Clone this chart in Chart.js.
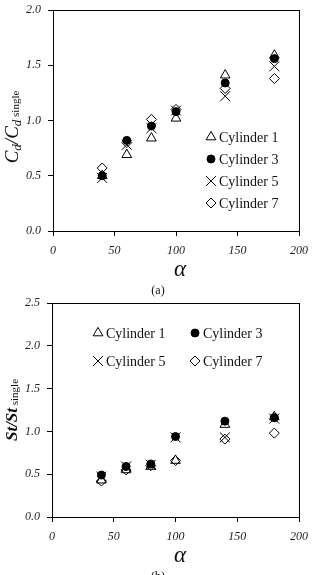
<!DOCTYPE html>
<html>
<head>
<meta charset="utf-8">
<script src="https://cdn.jsdelivr.net/npm/chart.js@4"></script>
<style>
  body { margin: 0; background: #fff; }
  #wrap { position: relative; width: 312px; height: 575px; overflow: hidden; }
  canvas { position: absolute; left: 0; }
  #canvasA { top: 0; }
  #canvasB { top: 290px; }
</style>
</head>
<body>
<div id="wrap">
  <canvas id="canvasA" width="312" height="300"></canvas>
  <canvas id="canvasB" width="312" height="285"></canvas>
</div>
<script>
// données
const alpha = [40, 60, 80, 100, 140, 180];
const seriesNames = ['Cylinder 1', 'Cylinder 3', 'Cylinder 5', 'Cylinder 7'];

// (a) Cd / Cd single
const cdCyl1 = [0.50, 0.69, 0.84, 1.02, 1.41, 1.59];
const cdCyl3 = [0.50, 0.82, 0.95, 1.08, 1.34, 1.56];
const cdCyl5 = [0.48, 0.78, 0.93, 1.09, 1.22, 1.49];
const cdCyl7 = [0.57, 0.80, 1.01, 1.10, 1.29, 1.38];

// (b) St / St single
const stCyl1 = [0.43, 0.55, 0.59, 0.66, 1.08, 1.17];
const stCyl3 = [0.49, 0.59, 0.62, 0.94, 1.12, 1.16];
const stCyl5 = [0.47, 0.59, 0.61, 0.93, 0.93, 1.15];
const stCyl7 = [0.42, 0.55, 0.60, 0.66, 0.91, 0.98];

const xTicks = [0, 50, 100, 150, 200];
const yTicksA = [0, 0.5, 1.0, 1.5, 2.0];
const yTicksB = [0, 0.5, 1.0, 1.5, 2.0, 2.5];

// styles des marqueurs
const markers = [
  { pointStyle: 'triangle', radius: 5.6, backgroundColor: 'rgba(255,255,255,0)' },
  { pointStyle: 'circle', radius: 4, backgroundColor: '#000' },
  { pointStyle: 'crossRot', radius: 7, backgroundColor: 'rgba(0,0,0,0)' },
  { pointStyle: 'rectRot', radius: 5, backgroundColor: 'rgba(255,255,255,0)' }
];

function makeDatasets(values) {
  return values.map((vals, i) => ({
    label: seriesNames[i],
    data: vals.map((v, k) => ({ x: alpha[k], y: v })),
    pointStyle: markers[i].pointStyle,
    pointRadius: markers[i].radius,
    pointBackgroundColor: markers[i].backgroundColor,
    pointBorderColor: '#000',
    pointBorderWidth: 1,
    showLine: false
  }));
}

// marqueur de légende (au cas où Chart.helpers n'existe pas)
function legendMarker(ctx, style, r, x, y) {
  if (Chart.helpers && Chart.helpers.drawPoint) {
    Chart.helpers.drawPoint(ctx, { pointStyle: style, radius: r, borderWidth: 1, rotation: 0 }, x, y);
    return;
  }
  ctx.beginPath();
  if (style === 'circle') {
    ctx.arc(x, y, r, 0, Math.PI * 2);
    ctx.fill();
  } else if (style === 'triangle') {
    ctx.moveTo(x, y - r);
    ctx.lineTo(x + r * 0.866, y + r / 2);
    ctx.lineTo(x - r * 0.866, y + r / 2);
    ctx.closePath();
  } else if (style === 'crossRot') {
    const d = r * 0.707;
    ctx.moveTo(x - d, y - d); ctx.lineTo(x + d, y + d);
    ctx.moveTo(x + d, y - d); ctx.lineTo(x - d, y + d);
  } else if (style === 'rectRot') {
    ctx.moveTo(x - r, y); ctx.lineTo(x, y - r); ctx.lineTo(x + r, y); ctx.lineTo(x, y + r);
    ctx.closePath();
  }
  ctx.stroke();
}

// dessin du cadre, légende, titres
const decorPlugin = {
  id: 'decor',
  afterDraw(chart, args, opts) {
    const ctx = chart.ctx;
    const a = chart.chartArea;
    ctx.save();
    // cadre
    ctx.strokeStyle = '#000';
    ctx.lineWidth = 1;
    ctx.strokeRect(Math.round(a.left) + 0.5, Math.round(a.top) + 0.5,
      Math.round(a.right - a.left), Math.round(a.bottom - a.top));

    // légende
    ctx.textBaseline = 'middle';
    ctx.textAlign = 'left';
    opts.legend.forEach((pos, i) => {
      const ds = chart.data.datasets[i];
      ctx.strokeStyle = '#000';
      ctx.fillStyle = ds.pointBackgroundColor;
      ctx.lineWidth = 1;
      legendMarker(ctx, ds.pointStyle, ds.pointRadius, pos[0], pos[1]);
      ctx.fillStyle = '#111';
      ctx.font = '14px "Liberation Serif"';
      ctx.fillText(ds.label, pos[0] + 8, pos[1] + 1);
    });

    // titre axe y (tourné)
    ctx.save();
    ctx.translate(opts.yTitle.x, opts.yTitle.y);
    ctx.rotate(-Math.PI / 2);
    ctx.fillStyle = '#111';
    ctx.textAlign = 'left';
    ctx.textBaseline = 'alphabetic';
    let parts = opts.yTitle.parts;
    let total = 0;
    parts.forEach(p => { ctx.font = p.font; p.w = ctx.measureText(p.text).width; total += p.w; });
    let cx = -total / 2;
    parts.forEach(p => {
      ctx.font = p.font;
      ctx.fillText(p.text, cx, p.dy);
      cx += p.w;
    });
    ctx.restore();

    // titre axe x
    ctx.fillStyle = '#111';
    ctx.textAlign = 'center';
    ctx.textBaseline = 'middle';
    ctx.font = 'italic 23px "Liberation Serif"';
    ctx.fillText('\u03B1', opts.xTitle.x, opts.xTitle.y);
    ctx.font = '12px "Liberation Serif"';
    ctx.fillText(opts.caption.text, opts.caption.x, opts.caption.y);
    ctx.restore();
  }
};

function makeOptions(yTicks, yWidth, xHeight, pad, decor) {
  return {
    responsive: false,
    animation: false,
    events: [],
    layout: { padding: pad },
    plugins: {
      legend: { display: false },
      tooltip: { enabled: false },
      decor: decor
    },
    scales: {
      x: {
        type: 'linear',
        min: 0, max: 200,
        afterFit: s => { s.height = xHeight; s.paddingLeft = 0; s.paddingRight = 0; },
        afterBuildTicks: s => { s.ticks = xTicks.map(v => ({ value: v })); },
        border: { display: true, color: '#000', width: 1 },
        grid: { drawOnChartArea: false, drawTicks: true, tickLength: 5, color: '#000' },
        ticks: {
          padding: 8,
          color: '#222',
          font: { family: 'Liberation Serif', style: 'italic', size: 12 },
          maxRotation: 0,
          callback: v => String(v)
        }
      },
      y: {
        type: 'linear',
        min: yTicks[0], max: yTicks[yTicks.length - 1],
        afterFit: s => { s.width = yWidth; s.paddingTop = 0; s.paddingBottom = 0; },
        afterBuildTicks: s => { s.ticks = yTicks.map(v => ({ value: v })); },
        border: { display: true, color: '#000', width: 1 },
        grid: { drawOnChartArea: false, drawTicks: true, tickLength: 5, color: '#000' },
        ticks: {
          padding: 7,
          color: '#222',
          font: { family: 'Liberation Serif', style: 'italic', size: 12 },
          callback: v => Number(v).toFixed(1)
        }
      }
    }
  };
}

// GRAPHIQUE (a)
new Chart(document.getElementById('canvasA'), {
  type: 'scatter',
  data: { datasets: makeDatasets([cdCyl1, cdCyl3, cdCyl5, cdCyl7]) },
  options: makeOptions(yTicksA, 53, 69, { top: 10, right: 13, left: 0, bottom: 0 }, {
    legend: [[211, 137], [211, 159], [211, 181], [211, 203]],
    yTitle: {
      x: 18, y: 127,
      parts: [
        { text: 'C', font: 'italic 19px "Liberation Serif"', dy: 0 },
        { text: 'd', font: 'italic 13px "Liberation Serif"', dy: 3 },
        { text: '/C', font: 'italic 19px "Liberation Serif"', dy: 0 },
        { text: 'd', font: 'italic 13px "Liberation Serif"', dy: 3 },
        { text: ' single', font: '11px "Liberation Serif"', dy: 1 }
      ]
    },
    xTitle: { x: 180, y: 270 },
    caption: { text: '(a)', x: 158, y: 291 }
  }),
  plugins: [decorPlugin]
});

// GRAPHIQUE (b)
new Chart(document.getElementById('canvasB'), {
  type: 'scatter',
  data: { datasets: makeDatasets([stCyl1, stCyl3, stCyl5, stCyl7]) },
  options: makeOptions(yTicksB, 52, 58, { top: 13, right: 13, left: 0, bottom: 0 }, {
    legend: [[98, 43], [195, 43], [98, 71], [195, 71]],
    yTitle: {
      x: 17, y: 120,
      parts: [
        { text: 'St/St', font: 'italic bold 17px "Liberation Serif"', dy: 0 },
        { text: ' single', font: '11px "Liberation Serif"', dy: 1 }
      ]
    },
    xTitle: { x: 180, y: 266 },
    caption: { text: '(b)', x: 158, y: 287 }
  }),
  plugins: [decorPlugin]
});
</script>
</body>
</html>
